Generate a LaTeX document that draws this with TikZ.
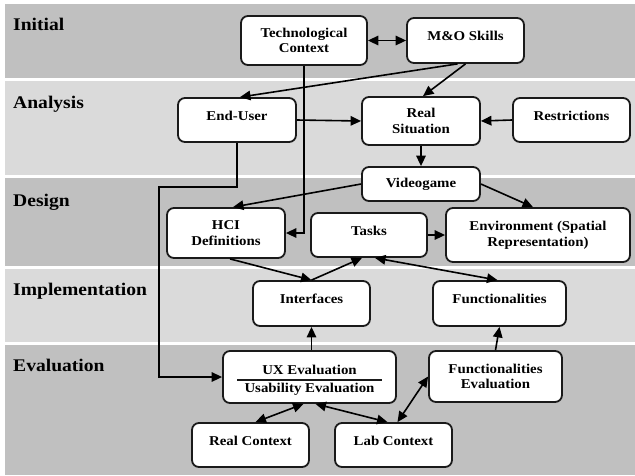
\documentclass[tikz,border=0pt]{standalone}
\usepackage{fontspec}
\setmainfont{Liberation Serif}[FakeStretch=1.1]
\usetikzlibrary{arrows.meta,calc}
\definecolor{banddark}{HTML}{C0C0C0}
\definecolor{bandlight}{HTML}{DADADA}
\definecolor{edgec}{HTML}{1A1A1A}
\tikzset{
  box/.style={draw=edgec, line width=1.8pt, rounded corners=7pt, fill=white, align=center,
    inner sep=2pt, font=\fontsize{13.5}{15.5}\selectfont\bfseries},
  wh/.style 2 args={minimum width=#1pt, minimum height=#2pt},
  oneline/.style={text height=9pt, text depth=9pt},
  plain/.style={inner sep=0pt, font=\fontsize{13.5}{15.5}\selectfont\bfseries},
  arr/.style={line width=1.6pt, draw=black, -{Triangle[length=10.5pt,width=9.5pt]}},
  darr/.style={line width=1.6pt, draw=black, {Triangle[length=10.5pt,width=9.5pt]}-{Triangle[length=10.5pt,width=9.5pt]}},
  phase/.style={anchor=base west, inner sep=0pt, font=\fontsize{17.8}{20}\selectfont\bfseries},
}
\begin{document}
\begin{tikzpicture}[x=1pt,y=-1pt]
\useasboundingbox (0,0) rectangle (635,475);
\fill[white] (0,0) rectangle (635,475);
% bands
\fill[banddark]  (5,4)   rectangle (635,78);
\fill[bandlight] (5,81)  rectangle (635,175);
\fill[banddark]  (5,178) rectangle (635,266);
\fill[bandlight] (5,269) rectangle (635,342);
\fill[banddark]  (5,345) rectangle (635,475);
% phase labels
\node[phase] (pInit) at (13,30) {Initial};
\node[phase] (pAna)  at (13,108) {Analysis};
\node[phase] (pDes)  at (13,206) {Design};
\node[phase] (pImp)  at (13,295) {Implementation};
\node[phase] (pEva)  at (13,371) {Evaluation};
% nodes
\node[box, wh={126}{49}] (tc) at (304,40.5) {Technological\\Context};
\node[box, wh={117}{45}, oneline] (mo) at (465.5,40.5) {M\&O Skills};
\node[box, wh={118}{44}, oneline] (eu) at (237,120) {End-User};
\node[box, wh={118}{48}] (rs) at (421,121) {Real\\Situation};
\node[box, wh={117}{44}, oneline] (re) at (571.5,120) {Restrictions};
\node[box, wh={118}{34}] (vg) at (421,184) {Videogame};
\node[box, wh={118}{50}] (hci) at (226,233) {HCI\\Definitions};
\node[box, wh={116}{44}, oneline] (tk) at (369,235) {Tasks};
\node[box, wh={184}{54}] (env) at (538,235) {Environment (Spatial\\Representation)};
\node[box, wh={117}{45}, oneline] (if) at (311.5,303.5) {Interfaces};
\node[box, wh={133}{45}, oneline] (fn) at (499.5,303.5) {Functionalities};
\node[box, wh={173}{52}] (ux) at (309.5,377) {};
\node[plain] (uxa) at (309.5,370) {UX Evaluation};
\node[plain] (uxb) at (309.5,389) {Usability Evaluation};
\draw[line width=1.3pt, draw=edgec] ($(ux.west)+(15,3)$) -- ($(ux.east)+(-15,3)$);
\node[box, wh={133}{51}] (fe) at (495.5,376.5) {Functionalities\\Evaluation};
\node[box, wh={117}{44}, oneline] (rc) at (250.5,445) {Real Context};
\node[box, wh={117}{44}, oneline] (lc) at (393.5,445) {Lab Context};
% connectors
\draw[darr] (tc.east) -- (mo.west);
\draw[arr] ([xshift=-8pt]mo.south) -- ([xshift=3pt]eu.north);
\draw[arr] (mo.south) -- ([xshift=2pt]rs.north);
\draw[arr] (tc.south) |- (hci.east);
\draw[arr] (eu.east) -- (rs.west);
\draw[arr] (re.west) -- (rs.west -| rs.east);
\draw[arr] (rs.south) -- (vg.north);
\draw[arr] (vg.west) -- ([xshift=7pt]hci.north);
\draw[arr] (vg.east) -- ([xshift=-5pt]env.north);
\draw[arr] (tk.east) -- (env.west |- tk.east);
\coordinate (k1) at (159,187);
\draw[arr] (eu.south) |- (k1) |- (ux.west);
\draw[arr] ([xshift=4pt]hci.south) -- (if.north);
\draw[arr] (if.north) -- ([xshift=-7pt]tk.south);
\draw[darr] ([xshift=6pt]tk.south) -- ([xshift=-2pt]fn.north);
\draw[arr] (ux.north -| if.south) -- (if.south);
\draw[arr] (fe.north) -- (fn.south);
\draw[darr] ([xshift=5pt]rc.north) -- ([xshift=-6pt]ux.south);
\draw[darr] ([xshift=-6pt]lc.north) -- ([xshift=6pt]ux.south);
\draw[darr] ([xshift=4pt]lc.north) -- (fe.west);
\end{tikzpicture}
\end{document}
